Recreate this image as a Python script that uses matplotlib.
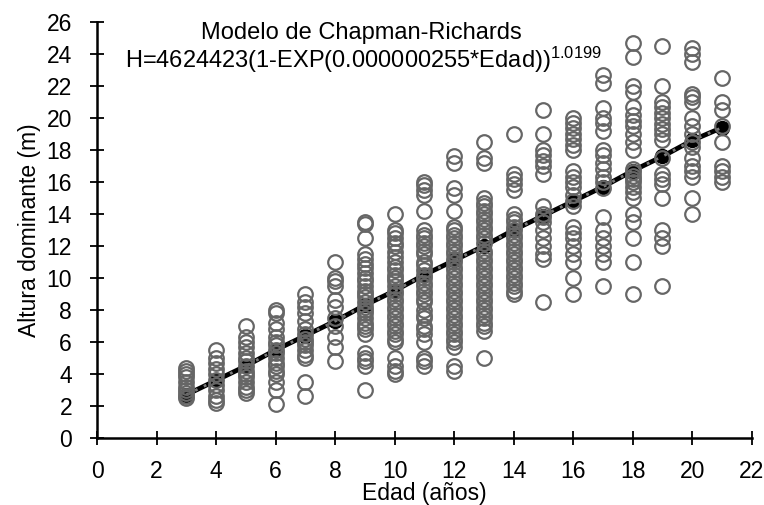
import matplotlib
matplotlib.use("Agg")
import matplotlib.pyplot as plt

plt.rcParams['font.family'] = ['Liberation Sans', 'DejaVu Sans']
plt.rcParams['mathtext.fontset'] = 'custom'
plt.rcParams['mathtext.rm'] = 'Liberation Sans'
plt.rcParams['mathtext.it'] = 'Liberation Sans'

# Observed dominant heights by age (m)
obs = {
    3: [2.5, 2.6, 2.8, 3.0, 3.2, 3.5, 3.8, 4.0, 4.2, 4.4],
    4: [5.5, 5.0, 4.7, 4.3, 4.0, 3.6, 3.3, 3.0, 2.6, 2.4, 2.2],
    5: [7.0, 6.3, 6.0, 5.7, 5.3, 5.0, 4.8, 4.5, 4.2, 4.0, 3.8, 3.5, 3.2, 3.0, 2.8],
    6: [8.0, 7.8, 7.2, 6.8, 6.3, 6.0, 5.8, 5.5, 5.3, 5.0, 4.7, 4.5, 4.2, 4.0, 3.5, 3.0, 2.1],
    7: [9.0, 8.5, 8.2, 7.8, 7.3, 6.8, 6.5, 6.2, 6.0, 5.8, 5.5, 5.2, 5.0, 3.5, 2.6],
    8: [11.0, 10.0, 9.8, 9.5, 8.6, 8.2, 7.5, 7.0, 6.3, 5.7, 4.8],
    9: [13.5, 13.4, 12.5, 11.5, 11.2, 10.9, 10.6, 10.3, 10.0, 9.8, 9.5, 9.2, 9.0,
        8.8, 8.5, 8.2, 8.0, 7.8, 7.5, 7.2, 7.0, 6.8, 6.5, 5.3, 5.0, 4.8, 4.5, 3.0],
    10: [14.0, 13.0, 12.8, 12.5, 12.2, 12.0, 11.6, 11.3, 11.0, 10.7, 10.5, 10.2, 10.0,
         9.8, 9.5, 9.2, 9.0, 8.7, 8.5, 8.2, 8.0, 7.7, 7.5, 7.2, 7.0, 6.7, 6.5, 6.2,
         6.0, 5.0, 4.5, 4.2, 4.0],
    11: [16.0, 15.8, 15.5, 15.2, 14.2, 13.0, 12.7, 12.5, 12.2, 12.0, 11.7, 11.5, 11.0,
         10.8, 10.5, 10.2, 10.0, 9.7, 9.5, 9.2, 9.0, 8.7, 8.5, 8.0, 7.7, 7.5, 7.0,
         6.8, 6.5, 6.0, 5.0, 4.8, 4.5],
    12: [17.6, 17.2, 15.6, 15.2, 14.2, 13.2, 13.0, 12.7, 12.5, 12.2, 12.0, 11.7, 11.5,
         11.2, 11.0, 10.7, 10.5, 10.2, 10.0, 9.7, 9.5, 9.2, 9.0, 8.7, 8.5, 8.2, 8.0,
         7.7, 7.5, 7.2, 7.0, 6.7, 6.5, 6.2, 6.0, 5.7, 4.5, 4.2],
    13: [18.5, 17.5, 17.2, 15.0, 14.7, 14.5, 14.2, 14.0, 13.7, 13.5, 13.2, 13.0, 12.7,
         12.5, 12.2, 11.7, 11.5, 11.2, 11.0, 10.7, 10.5, 10.2, 10.0, 9.7, 9.5, 9.2,
         9.0, 8.7, 8.5, 8.2, 8.0, 7.7, 7.5, 7.2, 7.0, 6.7, 5.0],
    14: [19.0, 16.5, 16.2, 15.9, 15.5, 14.0, 13.7, 13.5, 13.2, 13.0, 12.7, 12.5, 12.2,
         12.0, 11.7, 11.5, 11.2, 11.0, 10.7, 10.5, 10.2, 10.0, 9.7, 9.5, 9.2, 9.0],
    15: [20.5, 19.0, 18.0, 17.7, 17.3, 17.0, 16.5, 14.5, 14.0, 13.8, 13.5, 13.0, 12.5,
         12.0, 11.5, 11.2, 8.5],
    16: [20.0, 19.7, 19.4, 19.0, 18.7, 18.3, 18.0, 16.7, 16.3, 16.0, 15.7, 15.2, 14.8,
         14.5, 13.2, 12.8, 12.5, 12.0, 11.5, 11.0, 10.0, 9.0],
    17: [22.7, 22.2, 20.6, 20.0, 19.7, 19.2, 18.0, 17.7, 17.2, 16.8, 16.3, 16.0, 15.6,
         13.8, 13.0, 12.5, 12.0, 11.5, 11.0, 9.5],
    18: [24.7, 23.8, 22.0, 21.6, 20.7, 20.2, 19.8, 19.5, 19.0, 18.5, 18.0, 16.8, 16.6,
         16.4, 16.2, 16.0, 15.7, 15.4, 15.0, 14.0, 13.5, 12.5, 11.0, 9.0],
    19: [24.5, 22.0, 21.0, 20.7, 20.3, 20.0, 19.6, 19.3, 19.0, 18.6, 17.5, 16.5, 16.2,
         15.9, 15.0, 13.0, 12.5, 12.0, 9.5],
    20: [24.4, 24.0, 23.5, 21.5, 21.3, 21.0, 20.0, 19.5, 19.0, 18.5, 18.2, 17.5, 17.0,
         16.7, 16.3, 15.0, 14.0],
    21: [22.5, 21.0, 20.5, 19.5, 18.5, 17.0, 16.7, 16.3, 16.0],
}

# Fitted Chapman-Richards values
fit_age = [3, 4, 5, 6, 7, 8, 9, 10, 11, 12, 13, 14, 15, 16, 17, 18, 19, 20, 21]
fit_h = [2.7, 3.6, 4.5, 5.5, 6.4, 7.3, 8.3, 9.2, 10.2, 11.1, 12.0, 13.0, 13.9,
         14.8, 15.7, 16.7, 17.6, 18.6, 19.4]

x_ticks = list(range(0, 23, 2))
y_ticks = list(range(0, 27, 2))

title_line1 = "Modelo de Chapman-Richards"
title_line2 = "H=4624423(1-EXP(0.000000255*Edad))$^{1.0199}$"

fig = plt.figure(figsize=(7.64, 5.05), dpi=100)
ax = fig.add_axes([0.127, 0.1327, 0.857, 0.8237])

# fitted line
ax.plot(fit_age, fit_h, color='black', lw=3.5, marker='o', ms=10,
        mfc='black', mec='black', zorder=2)
ax.plot(fit_age, fit_h, color='#7a7a7a', lw=2, ls=(0, (1, 2.5)), zorder=2.5)

# observations
xs, ys = [], []
for age, vals in obs.items():
    xs += [age] * len(vals)
    ys += vals
ax.plot(xs, ys, ls='none', marker='o', ms=10.5, mfc='none', mec='#666666',
        mew=1.6, zorder=3)

ax.set_xlim(0, 22)
ax.set_ylim(0, 26)
ax.set_xticks(x_ticks)
ax.set_yticks(y_ticks)
ax.tick_params(direction='inout', length=10, width=1.3, labelsize=16.5,
               colors='black')
ax.tick_params(axis='x', pad=11)
ax.tick_params(axis='y', pad=13)
for s in ['top', 'right']:
    ax.spines[s].set_visible(False)
for s in ['left', 'bottom']:
    ax.spines[s].set_linewidth(1.8)

ax.set_xlabel("Edad (años)", fontsize=16.5, labelpad=-1)
ax.set_ylabel("Altura dominante (m)", fontsize=16.5, labelpad=4)

fig.text(361 / 764, 1 - 39 / 505, title_line1, ha='center', va='baseline',
         fontsize=17)
fig.text(363 / 764, 1 - 68 / 505, title_line2, ha='center', va='baseline',
         fontsize=17)

fig.savefig("out.png", dpi=100)
